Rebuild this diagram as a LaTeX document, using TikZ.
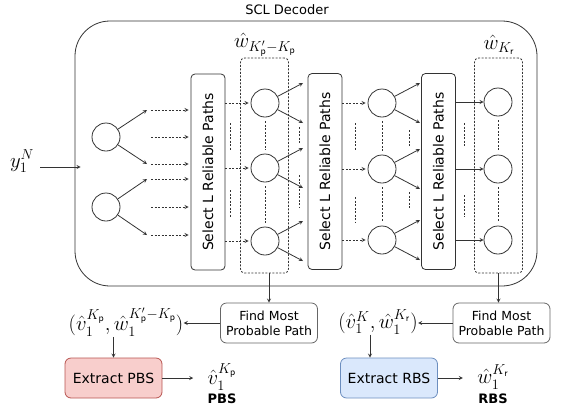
\documentclass[tikz,border=0pt]{standalone}
\usepackage{fontspec}
\setmainfont{DejaVu Sans}
\usepackage{xcolor}
\usepackage{amsmath}
\usepackage{tikz}

\definecolor{pbsfill}{HTML}{F8CECC}
\definecolor{pbsedge}{HTML}{B85450}
\definecolor{rbsfill}{HTML}{DAE8FC}
\definecolor{rbsedge}{HTML}{6C8EBF}

\begin{document}
\begin{tikzpicture}[thick, x=1pt, y=-1pt, >=stealth]
	\tikzset{sel box/.style={draw=black!80, rounded corners=4pt, minimum width=34pt, minimum height=196pt, inner sep=0pt, font=\fontsize{14}{16}\selectfont}}
	\tikzset{path node/.style={draw=black!80, circle, minimum size=28pt, inner sep=0pt}}
	\tikzset{group box/.style={draw=black!80, dash pattern=on 2pt off 1.5pt, rounded corners=4pt, minimum width=48pt, minimum height=215pt, inner sep=0pt}}
	\tikzset{find box/.style={draw=black!60, rounded corners=6pt, minimum width=97pt, minimum height=40pt, align=center, font=\fontsize{12.5}{15}\selectfont}}
	\tikzset{extract box/.style={rounded corners=6pt, minimum width=97pt, minimum height=40pt, font=\fontsize{14}{16}\selectfont}}
	\tikzset{big math/.style={inner sep=0pt, font=\fontsize{20}{24}\selectfont}}
	\tikzset{dash arrow/.style={->, black!80, dash pattern=on 2pt off 1.5pt, shorten >=2pt}}
	\tikzset{few paths/.style={black!80, thin, dash pattern=on 2pt off 1.5pt}}
	\useasboundingbox (0,0) rectangle (565,413);

	% decoder frame and input
	\node[draw=black!80, rounded corners=35pt, minimum width=462pt, minimum height=265pt] (dec) at (306,153.5) {};
	\node[font=\fontsize{13}{15}\selectfont] (title) at (287,10) {SCL Decoder};
	\node[big math] (yin) at (22,161) {$y_1^N$};
	\draw[->, black!80] ([xshift=6pt,yshift=-6pt]yin.east) -- ([xshift=6pt,yshift=-6pt]yin.east -| dec.west);

	% first stage
	\node[path node] (l1) at (106,137) {};
	\node[path node] (l2) at (106,207) {};
	\node[sel box] (sel1) at (208,172) {\rotatebox{90}{Select L Reliable Paths}};
	\node[sel box] (sel2) at (325,171.5) {\rotatebox{90}{Select L Reliable Paths}};
	\node[sel box] (sel3) at (438.5,171.5) {\rotatebox{90}{Select L Reliable Paths}};
	\foreach \y [count=\i] in {110,137,164,179,207,235} {
		\coordinate (tip\i) at (147,\y);
		\draw[dash arrow] ([xshift=4pt]tip\i) -- (tip\i -| sel1.west);
	}
	\foreach \i in {1,3} \draw[->, black!80] (l1) -- (tip\i);
	\foreach \i in {4,6} \draw[->, black!80] (l2) -- (tip\i);

	% path columns
	\foreach \y [count=\i] in {103,168,241} {
		\node[path node] (m\i) at (265,\y) {};
		\draw[dash arrow] (sel1.east |- m\i) -- (m\i.west);
		\draw[->, black!80] (m\i) -- ++(38,-20);
		\draw[->, black!80] (m\i) -- ++(38,20);
	}
	\foreach \y [count=\i] in {103,169,240} {
		\node[path node] (n\i) at (382,\y) {};
		\draw[dash arrow] (sel2.east |- n\i) -- (n\i.west);
		\draw[->, black!80] (n\i) -- ++(38,-20);
		\draw[->, black!80] (n\i) -- ++(38,20);
	}
	\foreach \y [count=\i] in {102,169,240} {
		\node[path node] (q\i) at (498,\y) {};
		\draw[->, black!80] (sel3.east |- q\i) -- (q\i.west);
	}
	\foreach \c in {m,n,q} {
		\draw[few paths, shorten <=4pt, shorten >=4pt] (\c1.south) -- (\c2.north);
		\draw[few paths, shorten <=4pt, shorten >=4pt] (\c2.south) -- (\c3.north);
	}
	\foreach \x/\a/\b/\c/\d in {230/123/150/190/217, 299/127/143/175/207, 355/123/150/197/223, 409/130/147/192/208, 464/123/147/195/217}
		\draw[few paths] (\x,\a) -- (\x,\b) (\x,\c) -- (\x,\d);

	\node[group box] (grp1) at (264.5,165.5) {};
	\node[group box] (grp2) at (498.5,165.5) {};
	\node[big math] (wlab1) at (265,45) {$\hat{w}_{K'_{\mathsf{p}}-K_{\mathsf{p}}}$};
	\node[big math] (wlab2) at (499,45) {$\hat{w}_{K_{\mathsf{r}}}$};

	% path selection and splitting
	\node[find box] (find1) at (269,323) {Find Most\\Probable Path};
	\node[find box] (find2) at (501.5,323) {Find Most\\Probable Path};
	\draw[->, black!80] (grp1.south -| find1.north) -- (find1.north);
	\draw[->, black!80] (grp2.south) -- (grp2.south |- find2.north);

	\node[big math] (tup1) at (126,322) {$(\hat{v}_1^{K_{\mathsf{p}}},\hat{w}_1^{K'_{\mathsf{p}}-K_{\mathsf{p}}})$};
	\node[big math] (tup2) at (378,322) {$(\hat{v}_1^{K},\hat{w}_1^{K_{\mathsf{r}}})$};
	\draw[->, black!80] (find1.west) -- (find1.west -| tup1.east);
	\draw[->, black!80] (find2.west) -- (find2.west -| tup2.east);

	\node[extract box, draw=pbsedge, fill=pbsfill] (ext1) at (113.5,378) {Extract PBS};
	\node[extract box, draw=rbsedge, fill=rbsfill] (ext2) at (389,378) {Extract RBS};
	\draw[->, black!80] (tup1.south -| ext1.north) -- (ext1.north);
	\draw[->, black!80] ([xshift=-8pt]tup2.south) -- ([xshift=-8pt]tup2.south |- ext2.north);

	\node[big math] (out1) at (222,377) {$\hat{v}_1^{K_{\mathsf{p}}}$};
	\node[font=\bfseries\fontsize{13}{15}\selectfont] (pbs) at (222,399) {PBS};
	\node[big math] (out2) at (493,377) {$\hat{w}_1^{K_{\mathsf{r}}}$};
	\node[font=\bfseries\fontsize{13}{15}\selectfont] (rbs) at (493,399) {RBS};
	\draw[->, black!80, shorten >=14pt] (ext1.east) -- (ext1.east -| out1.west);
	\draw[->, black!80, shorten >=14pt] (ext2.east) -- (ext2.east -| out2.west);
\end{tikzpicture}
\end{document}
